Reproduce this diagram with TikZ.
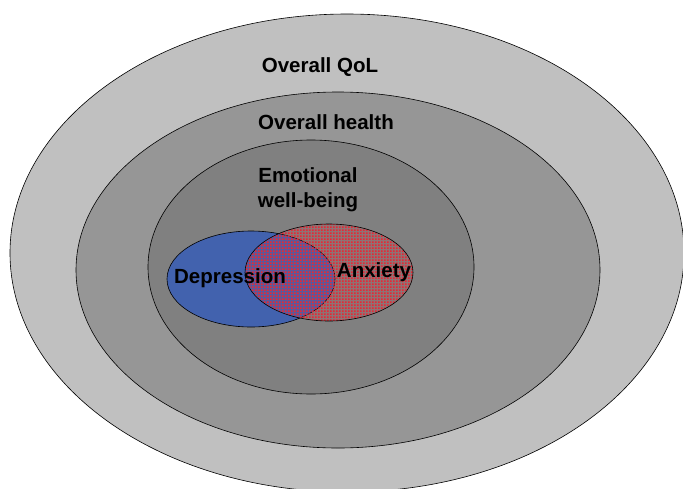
\documentclass[tikz,border=0pt]{standalone}
\usepackage{fontspec}
\setmainfont{Liberation Sans}
\usetikzlibrary{shapes.geometric, patterns}
\definecolor{colQoL}{RGB}{192,192,192}
\definecolor{colHealth}{RGB}{150,150,150}
\definecolor{colEmo}{RGB}{128,128,128}
\definecolor{colDep}{RGB}{66,98,174}
\definecolor{colAnx}{RGB}{232,40,52}
\pgfdeclarepatternformonly{anxDots}{\pgfpointorigin}{\pgfpoint{3pt}{3pt}}{\pgfpoint{3pt}{3pt}}{%
  \pgfpathrectangle{\pgfpointorigin}{\pgfpoint{2.1pt}{2.1pt}}\pgfusepath{fill}}
\tikzset{
  ring/.style={
    ellipse, draw=black, line width=0.6pt,
    inner sep=0pt
  },
  lbl/.style={
    font=\fontsize{20.5}{25}\selectfont\bfseries, text=black,
    align=center, inner sep=0pt
  }
}

\begin{document}
\begin{tikzpicture}[x=1pt, y=-1pt]

  \useasboundingbox (0,0) rectangle (683,488);
  \clip (0,0) rectangle (683,488);

  % nested areas
  \node[ring, fill=colQoL, minimum width=674pt, minimum height=478pt] (qol) at (347,253) {};
  \node[ring, fill=colHealth, minimum width=524pt, minimum height=356pt] (health) at (338,270) {};
  \node[ring, fill=colEmo, minimum width=326pt, minimum height=254pt] (emo) at (311,267) {};

  % overlapping conditions
  \node[ring, fill=colDep, minimum width=168pt, minimum height=96pt] (dep) at (251,279) {};
  \node[ring, preaction={fill=colAnx, fill opacity=0.15},
        pattern=anxDots, pattern color=colAnx,
        minimum width=168pt, minimum height=97pt] (anx) at (329,272.5) {};

  % labels
  \node[lbl] (qolText) at (320,67) {Overall QoL};
  \node[lbl] (healthText) at (326,122) {Overall health};
  \node[lbl] (emoText) at (308,189.5) {Emotional\\well-being};
  \node[lbl] (depText) at (230,278) {Depression};
  \node[lbl] (anxText) at (374,272) {Anxiety};

\end{tikzpicture}
\end{document}
